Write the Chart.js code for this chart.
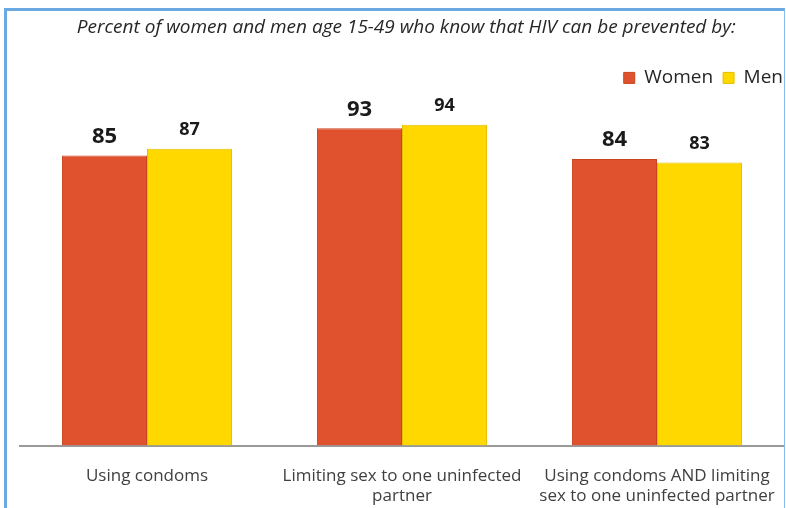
<!DOCTYPE html>
<html>
<head>
<meta charset="utf-8">
<script src="https://cdn.jsdelivr.net/npm/chart.js@4"></script>
<style>
  html, body { margin: 0; padding: 0; background: #fff; }
  #wrap { position: relative; width: 786px; height: 508px; overflow: hidden; }
  #frame {
    position: absolute; left: 4px; top: 8px; width: 777px; height: 520px;
    border-left: 3px solid #6aa9e2; border-top: 3px solid #6aa9e2;
    border-right: 1px solid #8cbce9; pointer-events: none;
  }
</style>
</head>
<body>
<div id="wrap">
  <canvas id="chart" width="793" height="519"></canvas>
  <div id="frame"></div>
</div>
<script>
// chart values
const categories = [
  'Using condoms',
  ['Limiting sex to one uninfected', 'partner'],
  ['Using condoms AND limiting', 'sex to one uninfected partner']
];
const women = [85, 93, 84];
const men = [87, 94, 83];
const titleText = 'Percent of women and men age 15-49 who know that HIV can be prevented by:';

// value labels on top of the bars
const valueLabels = {
  id: 'valueLabels',
  afterDatasetsDraw(chart) {
    const ctx = chart.ctx;
    ctx.save();
    ctx.textAlign = 'center';
    ctx.textBaseline = 'bottom';
    ctx.fillStyle = '#1a1a1a';
    chart.data.datasets.forEach((ds, i) => {
      const meta = chart.getDatasetMeta(i);
      ctx.font = i === 0 ? 'bold 22px "Open Sans"' : 'bold 18px "Open Sans"';
      const gap = i === 0 ? 8 : 10;
      meta.data.forEach((bar, j) => {
        ctx.fillText(ds.data[j], bar.x, bar.y - gap);
      });
    });
    ctx.restore();
  }
};

// extra room under the legend
const legendGap = {
  id: 'legendGap',
  beforeInit(chart) {
    const fit = chart.legend.fit;
    chart.legend.fit = function () {
      fit.call(this);
      this.height += 7;
    };
  }
};

const ctx = document.getElementById('chart').getContext('2d');
new Chart(ctx, {
  type: 'bar',
  data: {
    labels: categories,
    datasets: [
      {
        label: 'Women',
        data: women,
        backgroundColor: '#e0522d',
        borderColor: '#c9441f',
        borderWidth: 1,
        categoryPercentage: 0.667,
        barPercentage: 1.0
      },
      {
        label: 'Men',
        data: men,
        backgroundColor: '#ffd800',
        borderColor: '#e6bd00',
        borderWidth: 1,
        categoryPercentage: 0.667,
        barPercentage: 1.0
      }
    ]
  },
  options: {
    responsive: false,
    animation: false,
    devicePixelRatio: 1,
    layout: { padding: { left: 19.5, right: 0, top: 0, bottom: 0 } },
    plugins: {
      title: {
        display: true,
        text: titleText,
        color: '#262626',
        font: { family: '"Open Sans"', size: 19, style: 'italic', weight: 'normal' },
        padding: { top: 16.6, bottom: 19 }
      },
      legend: {
        position: 'top',
        align: 'end',
        labels: {
          boxWidth: 11,
          boxHeight: 11,
          padding: 10,
          color: '#262626',
          font: { family: '"Open Sans"', size: 19 }
        }
      },
      tooltip: { enabled: false }
    },
    scales: {
      x: {
        grid: { display: false },
        border: { display: true, color: '#9a9a9a', width: 2 },
        ticks: {
          color: '#404040',
          padding: 12,
          maxRotation: 0,
          autoSkip: false,
          font: { family: '"Open Sans"', size: 17, lineHeight: 1.22 }
        }
      },
      y: {
        display: false,
        min: 0,
        max: 100
      },
      y2: {
        position: 'right',
        display: true,
        grid: { display: false },
        border: { display: false },
        ticks: { display: false },
        afterFit(axis) { axis.width = 8.5; }
      }
    }
  },
  plugins: [valueLabels, legendGap]
});
</script>
</body>
</html>
